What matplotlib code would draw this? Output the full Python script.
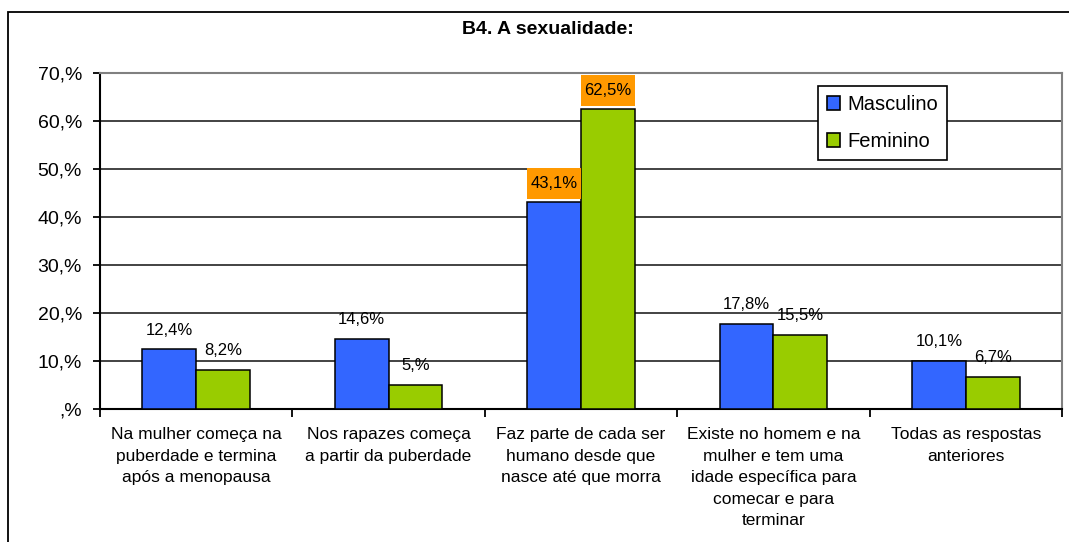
import matplotlib
matplotlib.use("Agg")
import matplotlib.pyplot as plt
import matplotlib.patches as patches
import numpy as np

plt.rcParams['font.family'] = ['Liberation Sans', 'DejaVu Sans']

# data
categories = [
    "Na mulher começa na\npuberdade e termina\napós a menopausa",
    "Nos rapazes começa\na partir da puberdade",
    "Faz parte de cada ser\nhumano desde que\nnasce até que morra",
    "Existe no homem e na\nmulher e tem uma\nidade específica para\ncomecar e para\nterminar",
    "Todas as respostas\nanteriores",
]
masculino = [12.4, 14.6, 43.1, 17.8, 10.1]
feminino = [8.2, 5.0, 62.5, 15.5, 6.7]
masc_labels = ["12,4%", "14,6%", "43,1%", "17,8%", "10,1%"]
fem_labels = ["8,2%", "5,%", "62,5%", "15,5%", "6,7%"]
highlight = [False, False, True, False, False]  # orange label boxes
yticks = [0, 10, 20, 30, 40, 50, 60, 70]
ytick_labels = [",%", "10,%", "20,%", "30,%", "40,%", "50,%", "60,%", "70,%"]

blue = "#3366FF"
green = "#99CC00"
orange = "#FF9900"

W, H = 1069, 542
fig = plt.figure(figsize=(W / 100, H / 100), dpi=100)

# outer chart border (runs off right and bottom of the picture)
fig.patches.append(patches.Rectangle((8 / W, -0.1), 1.2, 1 - 12 / H + 0.1,
                                     transform=fig.transFigure, fill=False,
                                     edgecolor="black", linewidth=1.3))

ax = fig.add_axes([100 / W, 1 - 409 / H, 962 / W, 336 / H])

x = np.arange(len(categories))
bw = 0.28
b1 = ax.bar(x - bw / 2, masculino, bw, color=blue, edgecolor="black",
            linewidth=1.1, label="Masculino", zorder=3)
b2 = ax.bar(x + bw / 2, feminino, bw, color=green, edgecolor="black",
            linewidth=1.1, label="Feminino", zorder=3)

# value labels
for bars, labs in ((b1, masc_labels), (b2, fem_labels)):
    for rect, lab, hl in zip(bars, labs, highlight):
        cx = rect.get_x() + rect.get_width() / 2
        top = rect.get_height()
        if hl:
            ax.annotate(lab, (cx, top), xytext=(0, 13.5), textcoords="offset points",
                        ha="center", va="center", fontsize=12, zorder=5,
                        bbox=dict(boxstyle="square,pad=0.2", fc=orange, ec="none",
                                  mutation_aspect=2.4))
        else:
            ax.annotate(lab, (cx, top), xytext=(0, 14), textcoords="offset points",
                        ha="center", va="center", fontsize=12, zorder=5)

ax.set_xlim(-0.5, len(categories) - 0.5)
ax.set_ylim(0, 70)
ax.set_yticks(yticks)
ax.set_yticklabels(ytick_labels, fontsize=14)
ax.set_xticks(x)
ax.set_xticklabels(categories, fontsize=12.5, linespacing=1.55, va="top")
ax.set_xticks(np.arange(len(categories) + 1) - 0.5, minor=True)
ax.tick_params(axis="x", which="major", length=0, pad=13)
ax.tick_params(axis="x", which="minor", length=6, width=1.3, direction="out")
ax.tick_params(axis="y", length=5, width=1.3, pad=8)

ax.yaxis.grid(True, color="#222222", linewidth=1.2, zorder=0)
ax.set_axisbelow(True)
for s in ("left", "bottom"):
    ax.spines[s].set_color("black")
    ax.spines[s].set_linewidth(1.5)
for s in ("top", "right"):
    ax.spines[s].set_color("#808080")
    ax.spines[s].set_linewidth(1.5)

leg = ax.legend(loc="upper left", bbox_to_anchor=(818 / W, 1 - 86 / H),
                bbox_transform=fig.transFigure, fontsize=14.5, frameon=True,
                fancybox=False, edgecolor="black", framealpha=1,
                handlelength=0.65, handleheight=0.65, handletextpad=0.35,
                labelspacing=0.9, borderpad=0.45, borderaxespad=0)
leg.get_frame().set_linewidth(1.2)
for h in leg.legend_handles:
    h.set_linewidth(1.2)

fig.text(548 / W, 1 - 30 / H, "B4. A sexualidade:", ha="center", va="center",
         fontsize=14, fontweight="bold")

fig.savefig("out.png", dpi=100)
